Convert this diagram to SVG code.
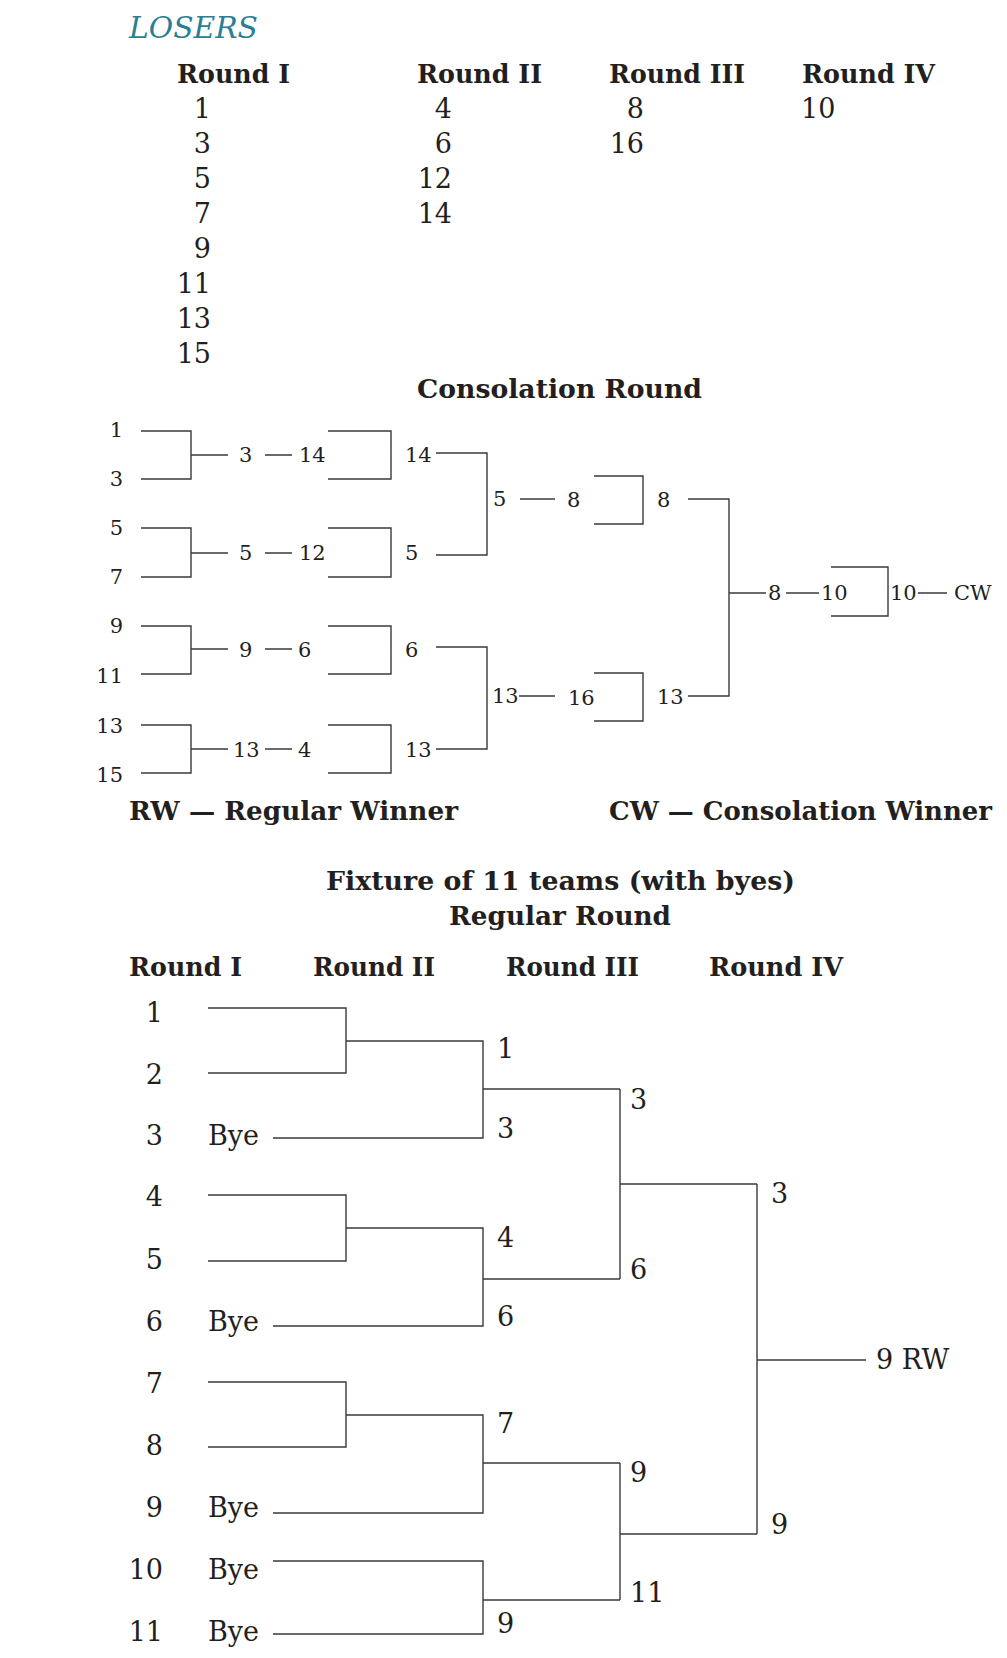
<svg xmlns="http://www.w3.org/2000/svg" width="1007" height="1658" viewBox="0 0 1007 1658">
<style>
.h{font-family:"DejaVu Serif","Liberation Serif",serif;font-weight:bold;font-size:26px;fill:#231f20}
.n{font-family:"DejaVu Serif","Liberation Serif",serif;font-size:27px;fill:#231f20}
.s{font-family:"DejaVu Serif","Liberation Serif",serif;font-size:21px;fill:#231f20}
.e{text-anchor:end}
.ln{fill:none;stroke:#3a3a3a;stroke-width:1.4}
</style>
<rect width="1007" height="1658" fill="#ffffff"/>

<g id="losers">
<text x="129" y="38" font-family="DejaVu Serif, Liberation Serif, serif" font-style="italic" font-size="29" fill="#2a7f96" textLength="129" lengthAdjust="spacingAndGlyphs">LOSERS</text>
<text class="h" x="177" y="83" textLength="113" lengthAdjust="spacingAndGlyphs">Round I</text>
<text class="h" x="417" y="83" textLength="125" lengthAdjust="spacingAndGlyphs">Round II</text>
<text class="h" x="609" y="83" textLength="136" lengthAdjust="spacingAndGlyphs">Round III</text>
<text class="h" x="802" y="83" textLength="133" lengthAdjust="spacingAndGlyphs">Round IV</text>
<g class="n e">
<text x="211" y="118">1</text><text x="211" y="153">3</text><text x="211" y="188">5</text><text x="211" y="223">7</text>
<text x="211" y="258">9</text><text x="211" y="293">11</text><text x="211" y="328">13</text><text x="211" y="363">15</text>
<text x="452" y="118">4</text><text x="452" y="153">6</text><text x="452" y="188">12</text><text x="452" y="223">14</text>
<text x="644" y="118">8</text><text x="644" y="153">16</text>
</g>
<text class="n" x="801" y="118">10</text>
</g>

<g id="consolation-title"><text class="h" x="417" y="398" textLength="285" lengthAdjust="spacingAndGlyphs">Consolation Round</text></g>

<g id="consolation-labels" class="s">
<g class="e">
<text x="123" y="437">1</text><text x="123" y="486">3</text><text x="123" y="535">5</text><text x="123" y="584">7</text>
<text x="123" y="633">9</text><text x="123" y="683">11</text><text x="123" y="733">13</text><text x="123" y="782">15</text>
</g>
<text x="239" y="462">3</text><text x="299" y="462">14</text>
<text x="239" y="560">5</text><text x="299" y="560">12</text>
<text x="239" y="657">9</text><text x="298" y="657">6</text>
<text x="233" y="757">13</text><text x="298" y="757">4</text>
<text x="405" y="462">14</text><text x="405" y="560">5</text><text x="405" y="657">6</text><text x="405" y="757">13</text>
<text x="493" y="506">5</text><text x="567" y="507">8</text>
<text x="492" y="703">13</text><text x="568" y="705">16</text>
<text x="657" y="507">8</text><text x="657" y="704">13</text>
<text x="768" y="600">8</text><text x="821" y="600">10</text>
<text x="890" y="600">10</text><text x="954" y="600">CW</text>
</g>

<g id="legend">
<text class="h" x="129" y="820" textLength="329" lengthAdjust="spacingAndGlyphs">RW — Regular Winner</text>
<text class="h" x="609" y="820" textLength="383" lengthAdjust="spacingAndGlyphs">CW — Consolation Winner</text>
</g>

<g id="fixture-title">
<text class="h" x="326" y="890" textLength="469" lengthAdjust="spacingAndGlyphs">Fixture of 11 teams (with byes)</text>
<text class="h" x="449" y="925" textLength="222" lengthAdjust="spacingAndGlyphs">Regular Round</text>
<text class="h" x="129" y="976" textLength="113" lengthAdjust="spacingAndGlyphs">Round I</text>
<text class="h" x="313" y="976" textLength="122" lengthAdjust="spacingAndGlyphs">Round II</text>
<text class="h" x="506" y="976" textLength="133" lengthAdjust="spacingAndGlyphs">Round III</text>
<text class="h" x="709" y="976" textLength="134" lengthAdjust="spacingAndGlyphs">Round IV</text>
</g>

<g id="fixture-labels" class="n">
<g class="e">
<text x="163" y="1022">1</text><text x="163" y="1084">2</text><text x="163" y="1145">3</text><text x="163" y="1206">4</text>
<text x="163" y="1269">5</text><text x="163" y="1331">6</text><text x="163" y="1393">7</text><text x="163" y="1455">8</text>
<text x="163" y="1517">9</text><text x="163" y="1579">10</text><text x="163" y="1641">11</text>
</g>
<text x="208" y="1145">Bye</text><text x="208" y="1331">Bye</text><text x="208" y="1517">Bye</text>
<text x="208" y="1579">Bye</text><text x="208" y="1641">Bye</text>
<text x="497" y="1058">1</text><text x="497" y="1138">3</text><text x="497" y="1247">4</text><text x="497" y="1326">6</text>
<text x="497" y="1433">7</text><text x="497" y="1633">9</text>
<text x="630" y="1109">3</text><text x="630" y="1279">6</text><text x="630" y="1482">9</text><text x="630" y="1602">11</text>
<text x="771" y="1203">3</text><text x="771" y="1534">9</text>
<text x="876" y="1369">9 RW</text>
</g>

<g id="connectors" class="ln">
<path d="M141 431H191V479H141M191 455H228M265 455H292M328 431H391V479H328"/>
<path d="M141 528H191V577H141M191 553H228M265 553H292M328 528H391V577H328"/>
<path d="M141 626H191V674H141M191 649H228M265 649H292M328 626H391V674H328"/>
<path d="M141 725H191V773H141M191 749H228M265 749H292M328 725H391V773H328"/>
<path d="M436 453H487V555H436M520 499H555"/>
<path d="M436 647H487V749H436M519 696H555"/>
<path d="M594 476H643V524H594M594 673H643V721H594"/>
<path d="M688 499H729V696H688M729 593H766M786 593H819"/>
<path d="M831 567H888V616H831M918 593H947"/>

<path d="M208 1008H346V1073H208M346 1041H483V1138H273M483 1089H620"/>
<path d="M208 1195H346V1261H208M346 1228H483V1326H273M483 1279H620"/>
<path d="M208 1382H346V1447H208M346 1415H483V1513H273M483 1463H620"/>
<path d="M273 1561H483V1634H273M483 1600H620"/>
<path d="M620 1089V1279M620 1184H757M620 1463V1600M620 1534H757"/>
<path d="M757 1184V1534M757 1360H866"/>
</g>
</svg>
